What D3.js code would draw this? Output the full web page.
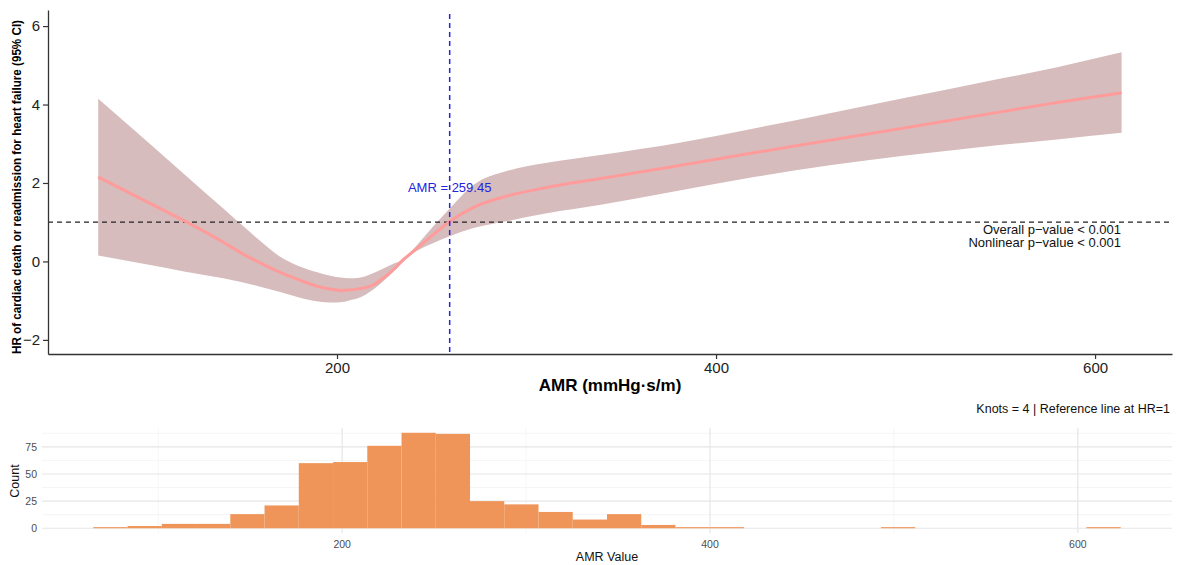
<!DOCTYPE html>
<html>
<head>
<meta charset="utf-8">
<script src="https://cdn.jsdelivr.net/npm/d3@7"></script>
<style>
  body { margin: 0; background: #fff; }
  svg { font-family: "Liberation Sans", Arial, sans-serif; }
</style>
</head>
<body>
<div id="chart"></div>
<script>
//********************************* DATA *********************************
// spline curve: AMR value, HR, lower and upper 95% CI
var amr   = [74, 100, 120, 140, 150, 160, 170, 180, 190, 197, 202, 206, 211, 219, 225, 230, 234, 240, 250, 259.45, 272, 290, 310, 340, 380, 420, 460, 500, 540, 580, 614];
var hr    = [2.15, 1.51, 1.02, 0.49, 0.2, -0.05, -0.28, -0.47, -0.64, -0.71, -0.74, -0.73, -0.7, -0.6, -0.4, -0.2, 0.0, 0.25, 0.65, 1.02, 1.38, 1.67, 1.88, 2.12, 2.44, 2.77, 3.09, 3.41, 3.73, 4.05, 4.3];
var lower = [0.15, -0.08, -0.26, -0.43, -0.53, -0.65, -0.78, -0.92, -1.02, -1.05, -1.04, -1.0, -0.94, -0.72, -0.48, -0.25, -0.05, 0.2, 0.45, 0.64, 0.85, 1.03, 1.22, 1.45, 1.8, 2.15, 2.45, 2.7, 2.92, 3.11, 3.28];
var upper = [4.15, 3.05, 2.2, 1.35, 0.92, 0.5, 0.12, -0.12, -0.28, -0.37, -0.41, -0.43, -0.42, -0.3, -0.17, -0.05, 0.02, 0.3, 0.85, 1.35, 1.95, 2.31, 2.51, 2.72, 3.02, 3.39, 3.78, 4.17, 4.56, 4.95, 5.33];
var cutoff = 259.45;
var refHR = 1;

var xTicks = [200, 400, 600];
var yTicks = [-2, 0, 2, 4, 6];

// histogram of AMR (30 bins)
var binStart = 64.7;
var binWidth = 18.62;
var counts = [1, 2, 4, 4, 13, 21, 60, 61, 76, 88, 87, 25, 22, 15, 8, 13, 3, 1, 1, 0, 0, 0, 0, 1, 0, 0, 0, 0, 0, 1];
var histXTicks = [200, 400, 600];
var histXMinor = [100, 300, 500];
var histYTicks = [0, 25, 50, 75];
var histYMinor = [12.5, 37.5, 62.5, 87.5];

var pText = ["Overall p\u2212value < 0.001", "Nonlinear p\u2212value < 0.001"];

//********************************* CANVAS *********************************
var W = 1177, H = 565;
var svg = d3.select("#chart").append("svg")
            .attr("width", W)
            .attr("height", H);

//********************************* TOP PANEL *********************************
var x = d3.scaleLinear().domain([47.5, 640.6]).range([48, 1172]);
var y = d3.scaleLinear().domain([-2.36, 6.41]).range([354, 10]);

var curve = amr.map(function(d, i){ return {v: d, hr: hr[i], lo: lower[i], hi: upper[i]}; });

svg.append("path")
   .datum(curve)
   .attr("fill", "#d6bcbc")
   .attr("d", d3.area()
        .x(function(d){ return x(d.v); })
        .y0(function(d){ return y(d.lo); })
        .y1(function(d){ return y(d.hi); })
        .curve(d3.curveMonotoneX));

// reference line HR = 1
svg.append("line")
   .attr("x1", 48).attr("x2", 1172)
   .attr("y1", y(refHR)).attr("y2", y(refHR))
   .attr("stroke", "#222")
   .attr("stroke-width", 1.3)
   .attr("stroke-dasharray", "5,4");

svg.append("path")
   .datum(curve)
   .attr("fill", "none")
   .attr("stroke", "#ff9b9b")
   .attr("stroke-width", 3)
   .attr("d", d3.line()
        .x(function(d){ return x(d.v); })
        .y(function(d){ return y(d.hr); })
        .curve(d3.curveMonotoneX));

// cutoff line
svg.append("line")
   .attr("x1", x(cutoff)).attr("x2", x(cutoff))
   .attr("y1", 14).attr("y2", 354)
   .attr("stroke", "#2323e0")
   .attr("stroke-width", 1.5)
   .attr("stroke-dasharray", "5,4");

svg.append("text")
   .attr("x", x(cutoff)).attr("y", 192)
   .attr("text-anchor", "middle")
   .attr("font-size", 13)
   .attr("fill", "#2323e0")
   .text("AMR = " + cutoff);

svg.selectAll(".ptext")
   .data(pText)
   .enter()
     .append("text")
     .attr("class", "ptext")
     .attr("x", 1121)
     .attr("y", function(d, i){ return 234 + i * 13; })
     .attr("text-anchor", "end")
     .attr("font-size", 13)
     .attr("fill", "#111")
     .text(function(d){ return d; });

// axes
var xAxis = svg.append("g")
   .attr("transform", "translate(0,354)")
   .call(d3.axisBottom(x).tickValues(xTicks).tickSize(5).tickSizeOuter(0).tickPadding(3));
var yAxis = svg.append("g")
   .attr("transform", "translate(48,0)")
   .call(d3.axisLeft(y).tickValues(yTicks).tickSize(5).tickSizeOuter(0).tickPadding(3)
        .tickFormat(function(d){ return d < 0 ? "\u2212" + Math.abs(d) : d; }));
[xAxis, yAxis].forEach(function(a){
  a.select(".domain").attr("stroke", "#333").attr("stroke-width", 1.3);
  a.selectAll(".tick line").attr("stroke", "#333").attr("stroke-width", 1.2);
  a.selectAll(".tick text").attr("font-size", 15).attr("fill", "#222")
   .attr("font-family", "Liberation Sans, Arial, sans-serif");
});

svg.append("text")
   .attr("transform", "translate(21,187) rotate(-90)")
   .attr("text-anchor", "middle")
   .attr("font-size", 12)
   .attr("font-weight", "bold")
   .attr("fill", "#000")
   .attr("textLength", 334)
   .attr("lengthAdjust", "spacingAndGlyphs")
   .text("HR of cardiac death or readmission for heart failure (95% CI)");

svg.append("text")
   .attr("x", 610).attr("y", 391)
   .attr("text-anchor", "middle")
   .attr("font-size", 17)
   .attr("font-weight", "bold")
   .attr("fill", "#000")
   .text("AMR (mmHg\u00b7s/m)");

//********************************* HISTOGRAM *********************************
var hx = d3.scaleLinear().domain([36.8, 651.2]).range([42, 1172]);
var hy = d3.scaleLinear().domain([-4.4, 92.4]).range([533, 428]);

svg.append("text")
   .attr("x", 1170).attr("y", 413)
   .attr("text-anchor", "end")
   .attr("font-size", 12.5)
   .attr("fill", "#111")
   .text("Knots = 4 | Reference line at HR=1");

// grid
svg.selectAll(".hminor")
   .data(histYMinor).enter().append("line")
   .attr("x1", 42).attr("x2", 1172)
   .attr("y1", function(d){ return hy(d); }).attr("y2", function(d){ return hy(d); })
   .attr("stroke", "#f3f3f3").attr("stroke-width", 0.8);
svg.selectAll(".vminor")
   .data(histXMinor).enter().append("line")
   .attr("y1", 428).attr("y2", 533)
   .attr("x1", function(d){ return hx(d); }).attr("x2", function(d){ return hx(d); })
   .attr("stroke", "#f3f3f3").attr("stroke-width", 0.8);
svg.selectAll(".hmajor")
   .data(histYTicks).enter().append("line")
   .attr("x1", 42).attr("x2", 1172)
   .attr("y1", function(d){ return hy(d); }).attr("y2", function(d){ return hy(d); })
   .attr("stroke", "#e6e6e6").attr("stroke-width", 1.2);
svg.selectAll(".vmajor")
   .data(histXTicks).enter().append("line")
   .attr("y1", 428).attr("y2", 533)
   .attr("x1", function(d){ return hx(d); }).attr("x2", function(d){ return hx(d); })
   .attr("stroke", "#e6e6e6").attr("stroke-width", 1.2);

// bars
svg.selectAll(".bar")
   .data(counts)
   .enter()
     .append("rect")
     .attr("class", "bar")
     .attr("x", function(d, i){ return hx(binStart + i * binWidth); })
     .attr("width", function(d, i){ return hx(binStart + (i + 1) * binWidth) - hx(binStart + i * binWidth); })
     .attr("y", function(d){ return hy(d); })
     .attr("height", function(d){ return hy(0) - hy(d); })
     .attr("fill", "#ef955a");

// tick labels
svg.selectAll(".hxlab")
   .data(histXTicks).enter().append("text")
   .attr("x", function(d){ return hx(d); }).attr("y", 548)
   .attr("text-anchor", "middle")
   .attr("font-size", 10.5).attr("fill", "#4d4d4d")
   .text(function(d){ return d; });
svg.selectAll(".hylab")
   .data(histYTicks).enter().append("text")
   .attr("x", 37).attr("y", function(d){ return hy(d) + 4; })
   .attr("text-anchor", "end")
   .attr("font-size", 10.5).attr("fill", "#4d4d4d")
   .text(function(d){ return d; });

svg.append("text")
   .attr("x", 607).attr("y", 561)
   .attr("text-anchor", "middle")
   .attr("font-size", 12.5).attr("fill", "#111")
   .text("AMR Value");

svg.append("text")
   .attr("transform", "translate(19,481) rotate(-90)")
   .attr("text-anchor", "middle")
   .attr("font-size", 12.5).attr("fill", "#111")
   .text("Count");
</script>
</body>
</html>
